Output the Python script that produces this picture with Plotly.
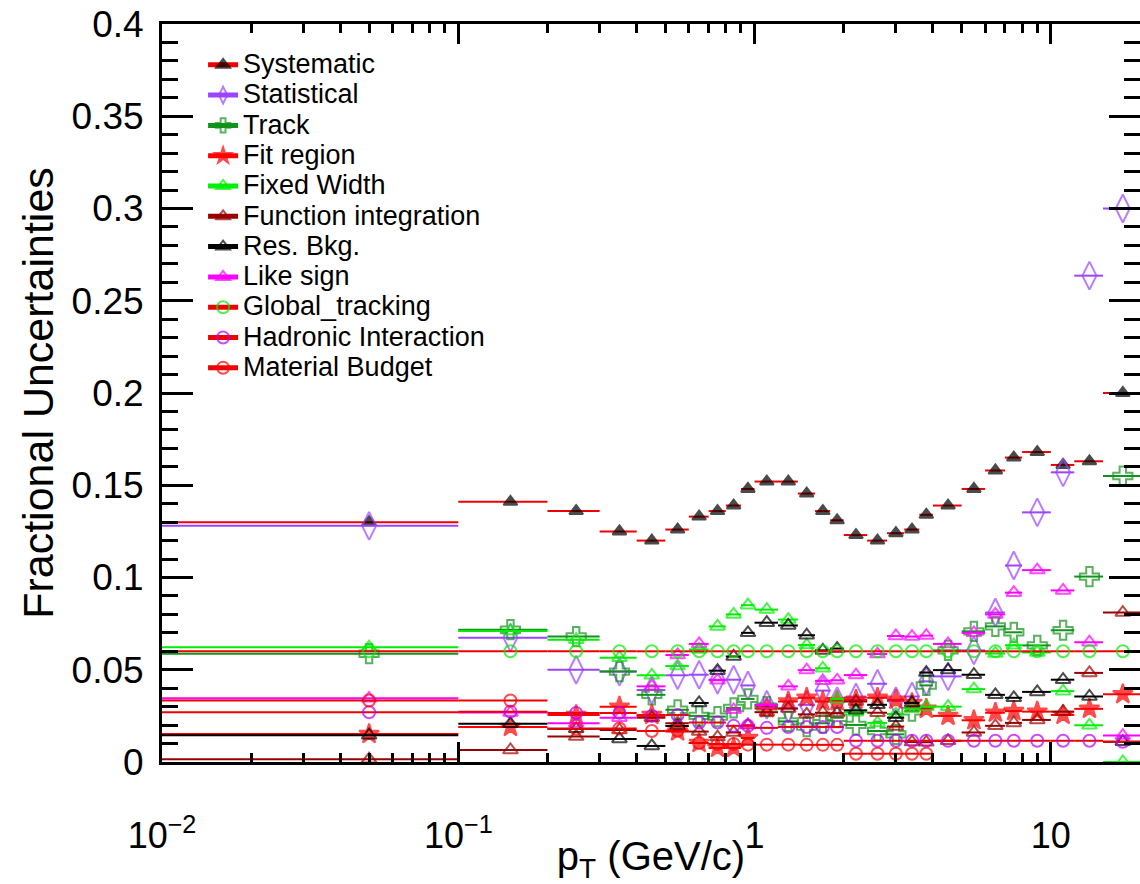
import math
import plotly.graph_objects as go

# ---------------- data ----------------
bin_edges = [0.0, 0.1, 0.2, 0.3, 0.4, 0.5, 0.6, 0.7, 0.8, 0.9, 1.0, 1.2, 1.4, 1.6, 1.8, 2.0,
             2.4, 2.8, 3.2, 3.6, 4.0, 5.0, 6.0, 7.0, 8.0, 10.0, 12.0, 15.0, 20.0]
pt_centers = [0.05, 0.15, 0.25, 0.35, 0.45, 0.55, 0.65, 0.75, 0.85, 0.95, 1.1, 1.3, 1.5, 1.7, 1.9,
              2.2, 2.6, 3.0, 3.4, 3.8, 4.5, 5.5, 6.5, 7.5, 9.0, 11.0, 13.5, 17.5]

systematic = [0.130, 0.141, 0.136, 0.125, 0.120, 0.126, 0.133, 0.136, 0.139, 0.148, 0.152, 0.152, 0.1455, 0.136,
              0.131, 0.123, 0.120, 0.124, 0.126, 0.134, 0.139, 0.148, 0.158, 0.165, 0.168, 0.161, 0.163, 0.200]
statistical = [0.128, 0.0674, 0.050, 0.049, 0.039, 0.047, 0.0473, 0.0446, 0.0446, 0.0415, 0.031, 0.029, 0.031,
               0.0387, 0.033, 0.035, 0.0424, 0.033, 0.0355, 0.0437, 0.0464, 0.0605, 0.081, 0.1065, 0.1353,
               0.157, 0.2636, 0.300]
track = [0.0587, 0.0717, 0.068, 0.049, 0.0364, 0.0283, 0.025, 0.0246, 0.0293, 0.0342, 0.030, 0.022, 0.0192,
         0.021, 0.024, 0.0201, 0.0168, 0.015, 0.0275, 0.0415, 0.0605, 0.0708, 0.0735, 0.0703, 0.0632, 0.0714,
         0.1005, 0.155]
fit_region = [0.0152, 0.019, 0.0255, 0.030, 0.0255, 0.0165, 0.0103, 0.0076, 0.0076, 0.013, 0.029, 0.0328,
              0.0348, 0.0328, 0.033, 0.0337, 0.0348, 0.0337, 0.032, 0.0288, 0.025, 0.0226, 0.0267, 0.0276,
              0.0273, 0.0255, 0.0288, 0.0367]
fixed_width = [0.0622, 0.071, 0.0663, 0.0565, 0.047, 0.052, 0.061, 0.0735, 0.080, 0.085, 0.0826, 0.0772,
               0.0634, 0.0508, 0.0342, 0.027, 0.0212, 0.026, 0.029, 0.030, 0.030, 0.0395, 0.0588, 0.0633,
               0.0594, 0.0384, 0.0199, 0.0]
function_integration = [0.0015, 0.0065, 0.0138, 0.0174, 0.024, 0.021, 0.0165, 0.0135, 0.016, 0.020, 0.027,
                        0.029, 0.0258, 0.0267, 0.0265, 0.0328, 0.0267, 0.0192, 0.0108, 0.0107, 0.0115, 0.016,
                        0.0196, 0.0212, 0.0228, 0.0273, 0.0483, 0.081]
res_bkg = [0.0145, 0.0207, 0.018, 0.0125, 0.0087, 0.0195, 0.032, 0.0495, 0.0572, 0.070, 0.0755, 0.074, 0.0687,
           0.0605, 0.0615, 0.028, 0.031, 0.024, 0.032, 0.0485, 0.0498, 0.0473, 0.0364, 0.0348, 0.038, 0.0446,
           0.0355, 0.011]
like_sign = [0.0345, 0.0268, 0.021, 0.024, 0.041, 0.058, 0.064, 0.0443, 0.0283, 0.020, 0.031, 0.041, 0.0498,
             0.044, 0.0443, 0.0471, 0.0585, 0.0683, 0.068, 0.0685, 0.064, 0.070, 0.080, 0.0918, 0.104, 0.093,
             0.0649, 0.0143]
global_tracking = [0.06, 0.06, 0.06, 0.06, 0.06, 0.06, 0.06, 0.06, 0.06, 0.06, 0.06, 0.06, 0.06, 0.06, 0.06,
                   0.06, 0.06, 0.06, 0.06, 0.06, 0.06, 0.06, 0.06, 0.06, 0.06, 0.06, 0.06, 0.06]
hadronic_interaction = [0.027, 0.0273, 0.0266, 0.0266, 0.025, 0.0255, 0.0214, 0.0214, 0.0196, 0.0196, 0.0185,
                        0.019, 0.019, 0.019, 0.019, 0.0115, 0.0115, 0.0115, 0.0115, 0.0115, 0.0115, 0.0115,
                        0.0115, 0.0115, 0.0115, 0.0115, 0.0115, 0.011]
material_budget = [0.0333, 0.0333, 0.018, 0.0182, 0.0168, 0.017, 0.0103, 0.0098, 0.0098, 0.0094, 0.0094,
                   0.0094, 0.0093, 0.0093, 0.0093, 0.0045, 0.0045, 0.0045, 0.0045, 0.0045, None, None, None,
                   None, None, None, None, None]

x_tick_vals = [0.01, 0.1, 1, 10]
x_tick_text = ["10<sup>\u22122</sup>", "10<sup>\u22121</sup>", "1", "10"]

# ---------------- style ----------------
FONT = "Liberation Sans, Arial, Helvetica, sans-serif"
series = [
    ("Systematic", systematic, "#000000", "#ee0000", "triangle-up", 12),
    ("Statistical", statistical, "#9b45ff", "#9b45ff", "diamond-tall-open", 20),
    ("Track", track, "#11921b", "#11921b", "cross-open", 16),
    ("Fit region", fit_region, "#ff0000", "#ff0000", "star", 15),
    ("Fixed Width", fixed_width, "#00ee00", "#00ee00", "triangle-up-open", 13),
    ("Function integration", function_integration, "#990000", "#990000", "triangle-up-open", 13),
    ("Res. Bkg.", res_bkg, "#000000", "#000000", "triangle-up-open", 13),
    ("Like sign", like_sign, "#ff00ff", "#ff00ff", "triangle-up-open", 13),
    ("Global_tracking", global_tracking, "#00ee00", "#ee0000", "circle-open", 12),
    ("Hadronic Interaction", hadronic_interaction, "#b400ff", "#ee0000", "circle-open", 12),
    ("Material Budget", material_budget, "#ff0000", "#ee0000", "circle-open", 12),
]

x_min_clip = 1e-3  # first bin starts at 0 -> clip for log axis

fig = go.Figure()
for name, vals, mcol, lcol, sym, size in series:
    xs, ys, ss = [], [], []
    for i, v in enumerate(vals):
        if v is None:
            continue
        lo = max(bin_edges[i], x_min_clip)
        hi = bin_edges[i + 1]
        xs += [lo, pt_centers[i], hi, None]
        ys += [v, v, v, None]
        ss += [0, size, 0, 0]
    fig.add_trace(go.Scatter(
        x=xs, y=ys, name=f'<span style="font-size:27px">{name}</span>',
        mode="lines+markers",
        line=dict(color=lcol, width=2),
        marker=dict(symbol=sym, size=ss, color=mcol, line=dict(color=mcol, width=2)),
        connectgaps=False,
        cliponaxis=True,
    ))

minor_x = [k * 10 ** d for d in (-2, -1, 0, 1) for k in range(2, 10) if k * 10 ** d <= 20]

fig.update_layout(
    width=1140, height=884,
    margin=dict(l=162, r=0, t=24, b=122),
    paper_bgcolor="white", plot_bgcolor="white",
    font=dict(family=FONT, color="black"),
    showlegend=True,
    legend=dict(
        x=0.042, y=0.972, xanchor="left", yanchor="top",
        font=dict(family=FONT, size=21, color="black"),
        bgcolor="rgba(0,0,0,0)", borderwidth=0,
        itemsizing="constant", tracegroupgap=0,
    ),
    xaxis=dict(
        type="log", range=[-2, math.log10(20)],
        tickmode="array", tickvals=x_tick_vals, ticktext=x_tick_text,
        ticks="inside", ticklen=20, tickwidth=3, tickcolor="black",
        minor=dict(tickmode="array", tickvals=minor_x, ticks="inside", ticklen=9,
                   tickwidth=3, tickcolor="black"),
        showline=True, linewidth=3, linecolor="black", mirror="ticks",
        showgrid=False, zeroline=False,
        tickfont=dict(family=FONT, size=36, color="black"),
        ticklabelstandoff=40,
        title=dict(text="p<sub>T</sub> (GeV/c)", font=dict(family=FONT, size=40, color="black"),
                   standoff=0),
        automargin=False,
    ),
    yaxis=dict(
        range=[0, 0.4], tickmode="linear", tick0=0, dtick=0.05,
        ticks="inside", ticklen=31, tickwidth=3, tickcolor="black",
        minor=dict(dtick=0.01, ticks="inside", ticklen=16, tickwidth=3, tickcolor="black"),
        showline=True, linewidth=3, linecolor="black", mirror="ticks",
        showgrid=False, zeroline=False,
        tickfont=dict(family=FONT, size=37, color="black"),
        ticklabelstandoff=8,
        title=dict(text="Fractional Uncertainties", font=dict(family=FONT, size=43, color="black"),
                   standoff=5),
        automargin=False,
    ),
)

fig.write_html("out.html")
